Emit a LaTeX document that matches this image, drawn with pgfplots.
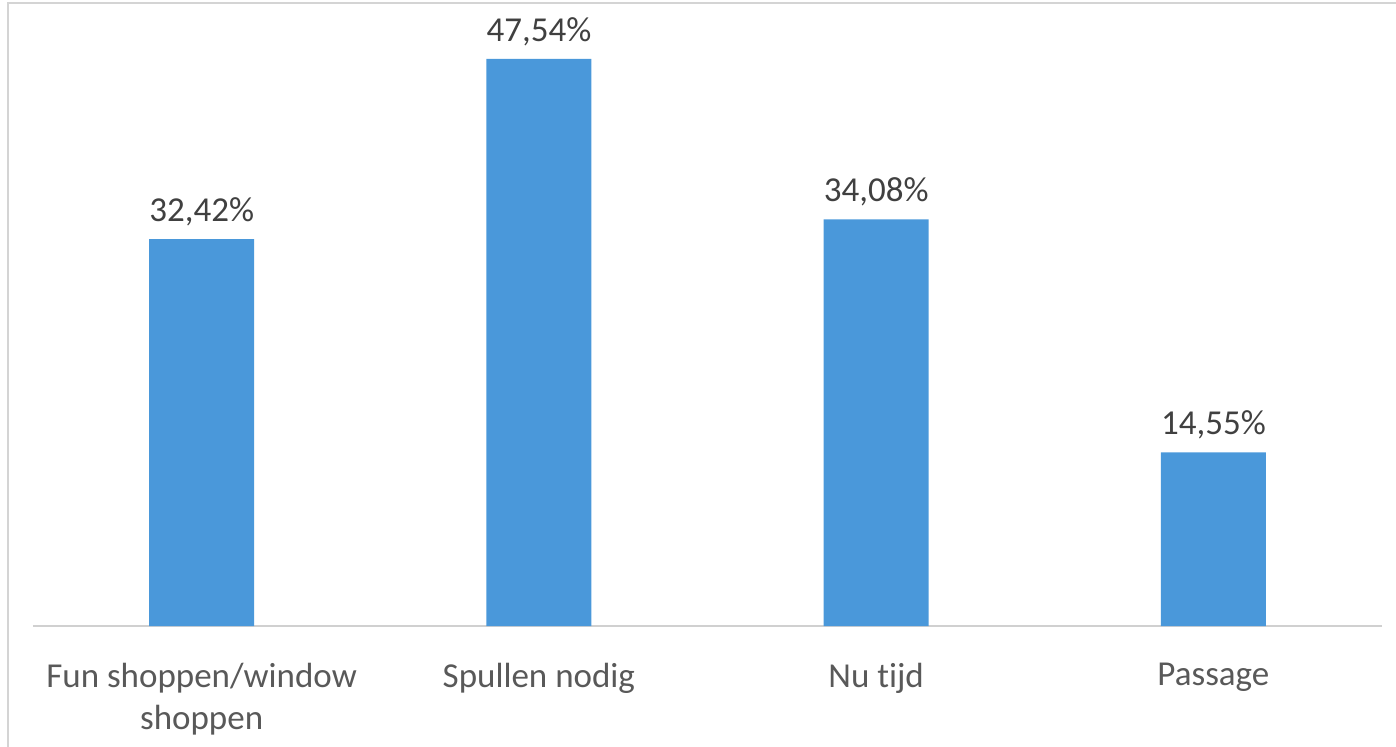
\documentclass[border=0pt]{standalone}
\usepackage{pgfplots}
\pgfplotsset{compat=1.18}
\usepackage{fontspec}
\setmainfont{Carlito}[Ligatures=CommonOff]
\definecolor{barblue}{HTML}{4A98DA}
\definecolor{labgray}{HTML}{595959}
\definecolor{valgray}{HTML}{404040}
\definecolor{frame}{HTML}{D4D4D4}
\definecolor{baseline}{HTML}{D0D0D0}
\begin{document}
\begin{tikzpicture}
% picture in image pixels: 1 px = 0.5pt, y downwards
\useasboundingbox (0,0) rectangle (698pt,-373.5pt);
\draw[frame, line width=1pt] (4pt,-373.5pt) -- (4pt,-1.5pt) -- (698pt,-1.5pt);
\begin{axis}[
    at={(16.5pt,-313pt)}, anchor=south west,
    scale only axis,
    width=674.5pt, height=298.25pt,
    xmin=-0.5, xmax=3.5,
    ymin=0, ymax=50,
    ybar, bar width=52.5pt,
    axis y line=none,
    axis x line*=bottom,
    x axis line style={draw=baseline, line width=0.8pt, -},
    xtick=data,
    xticklabels={Fun shoppen/window\\shoppen, Spullen nodig, Nu tijd, Passage},
    major tick length=0pt,
    xticklabel style={align=center, text=labgray, yshift=-15pt,
        font=\fontsize{17.5}{21}\selectfont},
    nodes near coords={\pgfmathprintnumber[fixed, fixed zerofill, precision=2,
        use comma, assume math mode=true]{\pgfplotspointmeta}\%},
    nodes near coords style={text=valgray, font=\fontsize{17.5}{21}\selectfont,
        yshift=3pt},
    clip=false,
]
\addplot[fill=barblue, draw=none] coordinates {
(0,32.42)
(1,47.54)
(2,34.08)
(3,14.55)
};
\end{axis}
\end{tikzpicture}
\end{document}
